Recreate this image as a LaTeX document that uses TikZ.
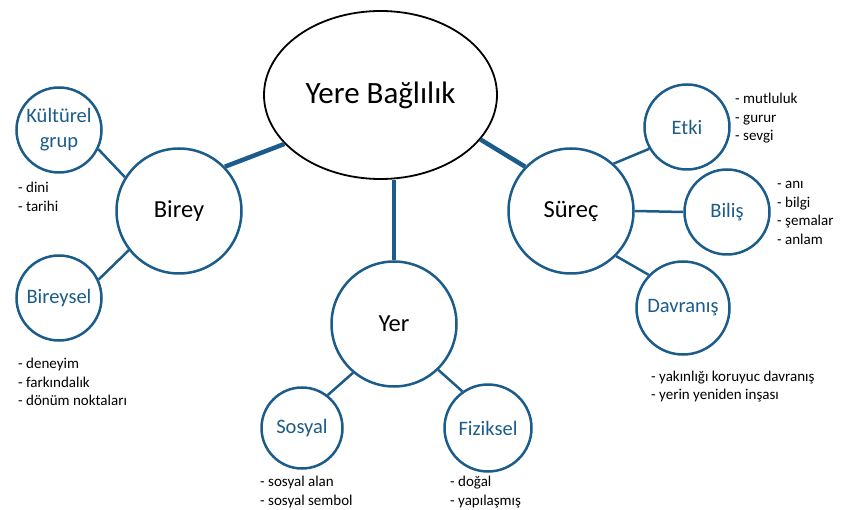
\documentclass[tikz,border=0pt]{standalone}
\usepackage{fontspec}
\setmainfont{Carlito}
\usetikzlibrary{shapes.geometric}

\definecolor{koyumavi}{RGB}{27,92,138}

\begin{document}
\begin{tikzpicture}[
    x=1pt, y=-1pt,
    % Styles
    merkez/.style={ellipse, draw=black, line width=1.8pt, minimum width=233pt, minimum height=168pt, font=\fontsize{31}{36}\selectfont},
    ana/.style={circle, draw=koyumavi, line width=2.5pt, minimum size=125pt, font=\fontsize{24.5}{28}\selectfont},
    alt/.style={circle, draw=koyumavi, line width=2.5pt, minimum size=85pt, inner sep=1pt, text=koyumavi, align=center, font=\fontsize{20.5}{25}\selectfont},
    liste/.style={anchor=base west, align=left, inner sep=0pt, font=\fontsize{15}{18.5}\selectfont},
    kalin/.style={draw=koyumavi, line width=4.5pt},
    ince/.style={draw=koyumavi, line width=2.5pt},
]
\useasboundingbox (0,0) rectangle (846,510);

% Title
\node[merkez] (baglilik) at (380.5, 95) {Yere Bağlılık};

% Main circles
\node[ana] (birey) at (179, 211) {Birey};
\node[ana] (yer) at (394, 324) {Yer};
\node[ana] (surec) at (571, 211) {Süreç};

% Sub circles
\node[alt] (kulturel) at (59, 130) {Kültürel\\grup};
\node[alt] (bireysel) at (59, 298) {Bireysel};
\node[alt, minimum size=81pt] (sosyal) at (302, 428) {Sosyal};
\node[alt, minimum size=87pt] (fiziksel) at (488, 428) {Fiziksel};
\node[alt] (etki) at (687, 127) {Etki};
\node[alt] (bilis) at (727, 212) {Biliş};
\node[alt, minimum size=93pt] (davranis) at (683, 308) {Davranış};

% Thick links to the title
\draw[kalin] (birey.44) -- (baglilik.207);
\draw[kalin] (yer.north) -- (yer.north |- baglilik.south);
\draw[kalin] (surec.136) -- (baglilik.336);

% Thin links
\draw[ince] (kulturel.334) -- (birey.148);
\draw[ince] (bireysel.25) -- (birey.218);
\draw[ince] (sosyal.52) -- (yer.230);
\draw[ince] (fiziksel.125) -- (yer.314);
\draw[ince] (etki.210) -- (surec.48);
\draw[ince] (bilis.west) -- (surec.east);
\draw[ince] (davranis.136) -- (surec.315);

% Lists (placed at the baseline of their last line)
\node[liste] (kulturliste) at (18, 211.5) {- dini\\- tarihi};
\node[liste] (bireyselliste) at (18, 406) {- deneyim\\- farkındalık\\- dönüm noktaları};
\node[liste] (sosyalliste) at (260, 505) {- sosyal alan\\- sosyal sembol};
\node[liste] (fizikselliste) at (450, 505) {- doğal\\- yapılaşmış};
\node[liste] (etkiliste) at (735, 141) {- mutluluk\\- gurur\\- sevgi};
\node[liste] (bilisliste) at (777, 244.5) {- anı\\- bilgi\\- şemalar\\- anlam};
\node[liste] (davranisliste) at (651, 399.5) {- yakınlığı koruyuc davranış\\- yerin yeniden inşası};

\end{tikzpicture}
\end{document}
